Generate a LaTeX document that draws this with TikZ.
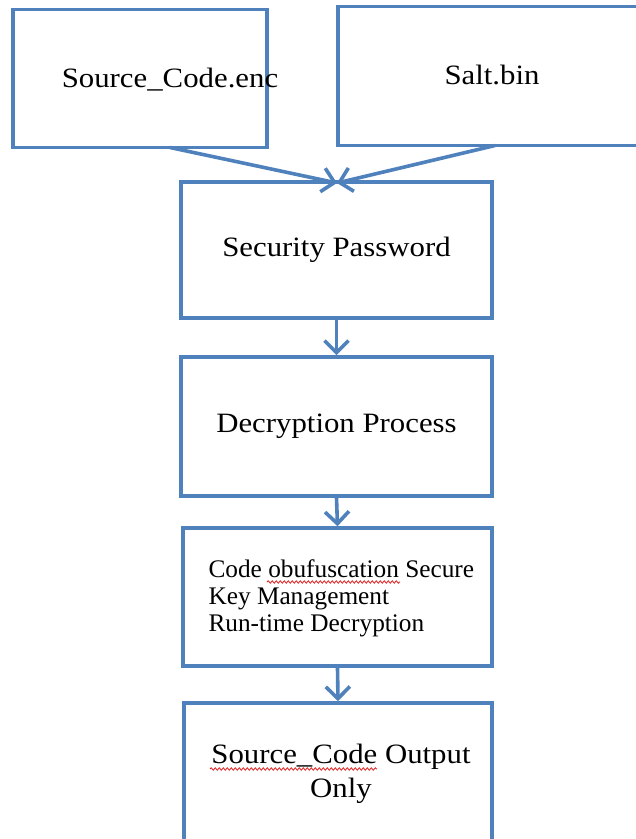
\documentclass[tikz,border=0pt]{standalone}
\usepackage{fontspec}
\setmainfont{Liberation Serif}
\newfontfamily\widefont[FakeStretch=1.1]{Liberation Serif}
\usetikzlibrary{arrows.meta,decorations.pathmorphing}
\definecolor{boxblue}{HTML}{4F81BD}
\definecolor{spellred}{HTML}{E02020}
\tikzset{
  flowbox/.style={draw=boxblue, line width=3.6pt, rectangle, inner sep=0pt, fill=white},
  bigtext/.style={font=\widefont\fontsize{28}{34}\selectfont, align=center, text=black},
  smalltext/.style={font=\fontsize{25.3}{27}\selectfont, align=left, text=black},
  flowarrow/.style={draw=boxblue, line width=3.6pt, -{Straight Barb[length=12pt,width=24pt,line width=3.6pt]}},
  squiggle/.style={draw=spellred, line width=0.8pt, decorate, decoration={snake, amplitude=1.2pt, segment length=4pt}}
}
\begin{document}
\begin{tikzpicture}[x=1pt,y=-1pt]
\useasboundingbox (0,0) rectangle (636,839);
% boxes
\node[flowbox, minimum width=254pt, minimum height=138pt] (src) at (140,78.5) {};
\node[flowbox, minimum width=330pt, minimum height=139pt] (salt) at (503,76) {};
\node[flowbox, minimum width=311pt, minimum height=136pt, bigtext] (pwd) at (336.5,250) {Security Password};
\node[flowbox, minimum width=311pt, minimum height=139pt, bigtext] (dec) at (336.5,426.5) {Decryption Process};
\node[flowbox, minimum width=309pt, minimum height=138pt] (obf) at (337.5,597) {};
\node[flowbox, minimum width=308pt, minimum height=160pt] (out) at (338,783) {};
% texts
\node[bigtext, anchor=base] (srct) at (170,87) {Source\_Code.enc};
\node[bigtext, anchor=base] (saltt) at (492,84) {Salt.bin};
\node[smalltext, anchor=base west] (obft) at (205,631) {Code obufuscation Secure\\Key Management\\Run-time Decryption};
\node[bigtext, anchor=base] (outt) at (341,797) {Source\_Code Output\\Only};
% connectors
\coordinate (srcb) at (170,147.5);
\coordinate (saltb) at (495,145.5);
\coordinate (pwdt) at (337,183);
\draw[flowarrow] (srcb) -- (pwdt);
\draw[flowarrow] (saltb) -- (pwdt);
\draw[flowarrow] (pwd.south) -- (dec.north);
\draw[flowarrow] (dec.south) -- (obf.north);
\draw[flowarrow] (obf.south) -- (out.north);
% spell-check marks
\draw[squiggle] (267,582) -- (400,582);
\draw[squiggle] (210,769) -- (377,769);
\end{tikzpicture}
\end{document}
